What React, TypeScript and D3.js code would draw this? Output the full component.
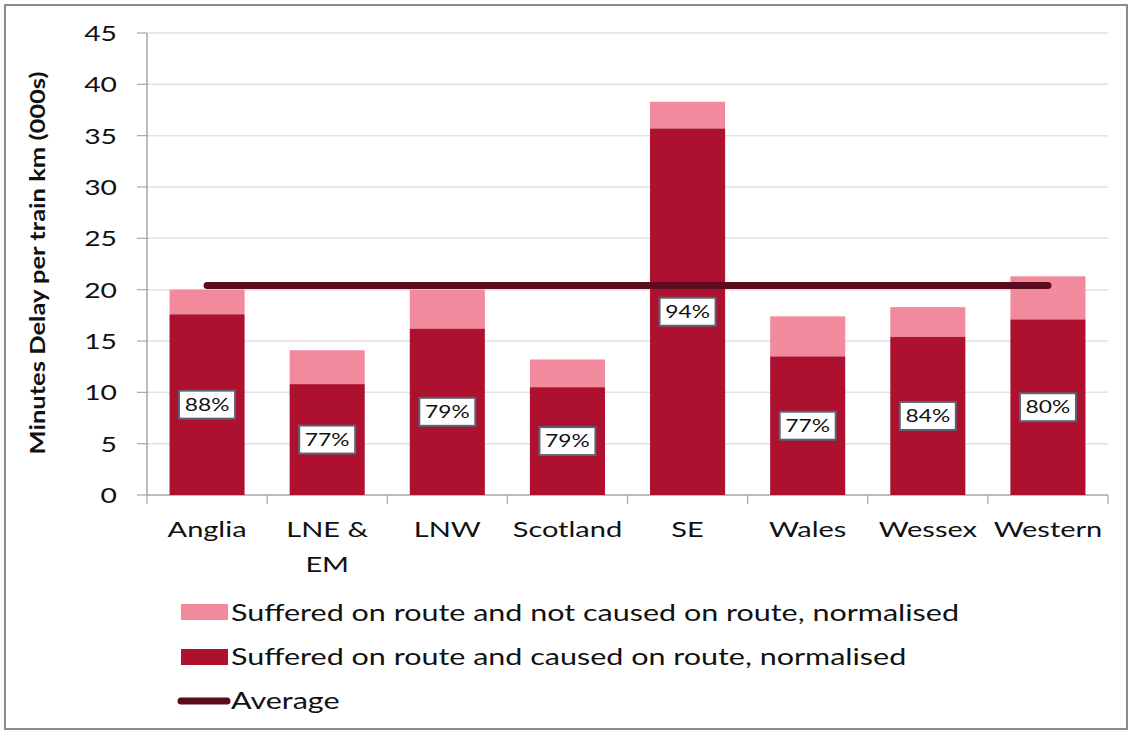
import * as d3 from "d3";

const routes = ["Anglia", "LNE & EM", "LNW", "Scotland", "SE", "Wales", "Wessex", "Western"];
const causedOnRoute = [17.6, 10.8, 16.2, 10.5, 35.7, 13.5, 15.4, 17.1];
const totalSuffered = [20.0, 14.1, 20.0, 13.2, 38.3, 17.4, 18.3, 21.3];
const shareLabels = ["88%", "77%", "79%", "79%", "94%", "77%", "84%", "80%"];
const averageValue = 20.4;
const yTicks = [0, 5, 10, 15, 20, 25, 30, 35, 40, 45];

const legendItems = [
  "Suffered on route and not caused on route, normalised",
  "Suffered on route and caused on route, normalised",
  "Average",
];

const W = 1130;
const H = 731;
const margin = { top: 33, right: 22, bottom: 236, left: 147 };
const DARK = "#ae1030";
const LIGHT = "#f28a9e";
const AVG = "#5c0a1e";
const FONT = "Lato, 'Open Sans', sans-serif";
const SX = 1.38; // glyphs in the source look stretched sideways

function T({ x, y, children, size = 21, anchor = "middle", weight = 400 }: any) {
  return (
    <text
      transform={`translate(${x},${y}) scale(${SX},1)`}
      fontFamily={FONT}
      fontSize={size}
      fontWeight={weight}
      textAnchor={anchor}
      fill="#111"
    >
      {children}
    </text>
  );
}

export default function App() {
  const innerW = W - margin.left - margin.right;
  const innerH = H - margin.top - margin.bottom;

  const x = d3.scaleBand<string>().domain(routes).range([0, innerW]).paddingInner(0.375).paddingOuter(0.1875);
  const y = d3.scaleLinear().domain([0, 45]).range([innerH, 0]);
  const step = x.step();

  return (
    <svg width={W} height={H} style={{ position: "absolute", left: 0, top: 0, background: "#fff" }}>
      <rect x={5} y={5} width={W - 8} height={H - 7} fill="#fff" stroke="#8c8c8c" strokeWidth={2} />
      <g transform={`translate(${margin.left},${margin.top})`}>
        {yTicks.map((t) => (
          <g key={t}>
            {t > 0 && <line x1={0} x2={innerW} y1={y(t)} y2={y(t)} stroke="#e2e2e2" strokeWidth={1.5} />}
            <line x1={-10} x2={0} y1={y(t)} y2={y(t)} stroke="#a6a6a6" strokeWidth={1.2} />
            <T x={-30} y={y(t) + 8} size={20.5} anchor="end">
              {t}
            </T>
          </g>
        ))}
        <line x1={0} x2={0} y1={0} y2={innerH} stroke="#a6a6a6" strokeWidth={1.5} />
        <line x1={0} x2={innerW} y1={innerH} y2={innerH} stroke="#a6a6a6" strokeWidth={1.5} />
        {d3.range(routes.length + 1).map((i) => (
          <line key={i} x1={i * step} x2={i * step} y1={innerH} y2={innerH + 9} stroke="#a6a6a6" strokeWidth={1.2} />
        ))}

        {routes.map((r, i) => (
          <g key={r}>
            <rect x={x(r)} width={x.bandwidth()} y={y(totalSuffered[i])} height={y(causedOnRoute[i]) - y(totalSuffered[i])} fill={LIGHT} />
            <rect x={x(r)} width={x.bandwidth()} y={y(causedOnRoute[i])} height={innerH - y(causedOnRoute[i])} fill={DARK} />
          </g>
        ))}

        <line
          x1={x(routes[0])! + x.bandwidth() / 2}
          x2={x(routes[routes.length - 1])! + x.bandwidth() / 2}
          y1={y(averageValue)}
          y2={y(averageValue)}
          stroke={AVG}
          strokeWidth={7}
          strokeLinecap="round"
        />

        {routes.map((r, i) => {
          const cx = x(r)! + x.bandwidth() / 2;
          const cy = y(causedOnRoute[i] / 2);
          return (
            <g key={r + "lbl"}>
              <rect x={cx - 28} y={cy - 14} width={56} height={28} fill="#fff" stroke="#5a6470" strokeWidth={2} />
              <T x={cx} y={cy + 6} size={16.5}>
                {shareLabels[i]}
              </T>
            </g>
          );
        })}

        {routes.map((r) => {
          const cx = x(r)! + x.bandwidth() / 2;
          const lines = r === "LNE & EM" ? ["LNE &", "EM"] : [r];
          return lines.map((l, j) => (
            <T key={r + j} x={cx} y={innerH + 42 + j * 35} size={21}>
              {l}
            </T>
          ));
        })}
      </g>

      <text
        transform="translate(45,263) rotate(-90)"
        fontFamily={FONT}
        fontSize={21}
        fontWeight={700}
        textAnchor="middle"
        textLength={383}
        lengthAdjust="spacingAndGlyphs"
        fill="#111"
      >
        Minutes Delay per train km (000s)
      </text>

      <g>
        <rect x={181} y={604} width={47} height={16} fill={LIGHT} />
        <T x={231} y={621} size={22.1} anchor="start">
          {legendItems[0]}
        </T>
        <rect x={181} y={649} width={47} height={16} fill={DARK} />
        <T x={231} y={665} size={22.1} anchor="start">
          {legendItems[1]}
        </T>
        <line x1={181} x2={227} y1={701} y2={701} stroke={AVG} strokeWidth={7} strokeLinecap="round" />
        <T x={231} y={709} size={22.1} anchor="start">
          {legendItems[2]}
        </T>
      </g>
    </svg>
  );
}
